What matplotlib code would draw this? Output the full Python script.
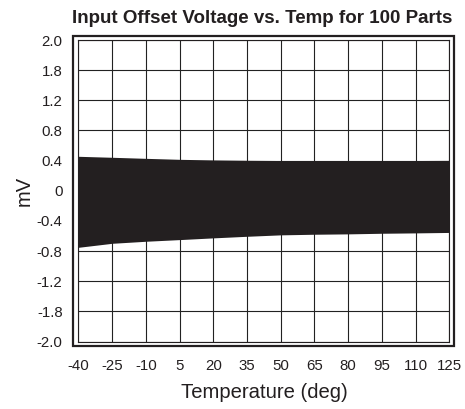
import numpy as np
import matplotlib
matplotlib.use('Agg')
import matplotlib.pyplot as plt
from matplotlib.patches import Rectangle

plt.rcParams['font.family'] = ['Liberation Sans', 'DejaVu Sans']

# temperature points (deg) and envelope of the 100 parts (mV)
temps = [-40, -25, -10, 5, 20, 35, 50, 65, 80, 95, 110, 125]
upper = [0.457, 0.444, 0.430, 0.417, 0.409, 0.404, 0.401, 0.400, 0.400, 0.400, 0.401, 0.403]
lower = [-0.750, -0.697, -0.670, -0.648, -0.625, -0.604, -0.585, -0.577, -0.572, -0.564, -0.559, -0.553]

# the y grid is even but the printed labels are not
ytick_pos = [-2.0, -1.6, -1.2, -0.8, -0.4, 0.0, 0.4, 0.8, 1.2, 1.6, 2.0]
ytick_lab = ['-2.0', '-1.8', '-1.2', '-0.8', '-0.4', '0', '0.4', '0.8', '1.2', '1.8', '2.0']

fig = plt.figure(figsize=(4.65, 4.09), dpi=100)
ax = fig.add_axes([0.1688, 0.165, 0.7974, 0.7372])

ax.fill_between(temps, lower, upper, color='#231f20', lw=0, zorder=3)

ax.set_xlim(-40, 125)
ax.set_ylim(-2.0, 2.0)
ax.set_xticks(temps)
ax.set_xticklabels([str(t) for t in temps])
ax.set_yticks(ytick_pos)
ax.set_yticklabels(ytick_lab)
ax.tick_params(length=0, labelsize=10.8, colors='#231f20')
ax.tick_params(axis='x', pad=12.5)
ax.tick_params(axis='y', pad=11.5)
ax.grid(True, color='#222222', lw=0.8, zorder=1)
ax.set_axisbelow(True)
for s in ax.spines.values():
    s.set_linewidth(0.8)
    s.set_color('#231f20')

ax.set_xlabel('Temperature (deg)', fontsize=14.6, color='#231f20', labelpad=7.5)
ax.set_ylabel('mV', fontsize=14.5, color='#231f20', labelpad=2)

# thick outer frame around the plot area
fig.patches.append(Rectangle((0.157, 0.154), 0.819, 0.758, transform=fig.transFigure,
                             fill=False, lw=1.6, edgecolor='#231f20'))

fig.text(0.5645, 0.9438, 'Input Offset Voltage vs. Temp for 100 Parts', ha='center',
         va='baseline', fontsize=13.5, fontweight='bold', color='#231f20')

fig.savefig('out.png', dpi=100)
